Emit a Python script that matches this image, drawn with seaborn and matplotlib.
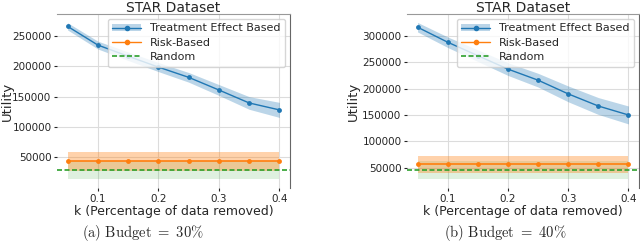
import numpy as np
import pandas as pd
import seaborn as sns
import matplotlib.pyplot as plt
from matplotlib.lines import Line2D
from matplotlib.patches import Patch

k = [0.05, 0.1, 0.15, 0.2, 0.25, 0.3, 0.35, 0.4]

# Budget = 30%
te_30 = [266500, 235500, 217000, 199000, 182000, 161000, 139500, 128000]
te_30_err = [6000, 6500, 7000, 7500, 8000, 9000, 10500, 12500]
risk_30 = 42500
risk_30_err = 15000
rand_30 = 28300
rand_30_err = 15500
yticks_30 = [50000, 100000, 150000, 200000, 250000]

# Budget = 40%
te_40 = [316500, 288000, 262500, 237000, 216000, 190000, 167000, 150000]
te_40_err = [9000, 10000, 11000, 12000, 13000, 15000, 16000, 17000]
risk_40 = 56500
risk_40_err = 16500
rand_40 = 45600
rand_40_err = 17600
yticks_40 = [50000, 100000, 150000, 200000, 250000, 300000]

panels = [
    (r"$\mathrm{(a)\ Budget}\ =\ 30\%$", te_30, te_30_err, risk_30, risk_30_err,
     rand_30, rand_30_err, yticks_30, (-1500, 287000)),
    (r"$\mathrm{(b)\ Budget}\ =\ 40\%$", te_40, te_40_err, risk_40, risk_40_err,
     rand_40, rand_40_err, yticks_40, (11500, 341500)),
]

sns.set_style("whitegrid", {"grid.color": "#dcdcdc"})
plt.rcParams["font.family"] = ["DejaVu Sans"]
plt.rcParams["mathtext.fontset"] = "cm"

blue, orange, green = "#1f77b4", "#ff7f0e", "#2ca02c"

fig = plt.figure(figsize=(6.4, 2.44), dpi=100)
axes_pos = [[57 / 640, 56 / 244, 233 / 640, 174 / 244],
            [407 / 640, 56 / 244, 232 / 640, 174 / 244]]
ylabel_x = [-0.185, -0.205]
caption_x = [143 / 640, 505 / 640]

for i, (cap, te, te_err, risk, risk_err, rnd, rnd_err, yt, ylim) in enumerate(panels):
    ax = fig.add_axes(axes_pos[i])
    df = pd.DataFrame({"k": k, "te": te, "risk": [risk] * len(k)})
    te_lo = np.array(te) - np.array(te_err)
    te_hi = np.array(te) + np.array(te_err)

    ax.fill_between(k, rnd - rnd_err, rnd + rnd_err, color=green, alpha=0.15, lw=0)
    ax.fill_between(k, risk - risk_err, risk + risk_err, color=orange, alpha=0.35, lw=0)
    ax.fill_between(k, te_lo, te_hi, color=blue, alpha=0.3, lw=0)
    sns.lineplot(data=df, x="k", y="te", ax=ax, color=blue, marker="o",
                 markersize=3.5, markeredgewidth=0, lw=1)
    sns.lineplot(data=df, x="k", y="risk", ax=ax, color=orange, marker="o",
                 markersize=3.5, markeredgewidth=0, lw=1.2)
    ax.axhline(rnd, color=green, ls=(0, (3, 1.5)), lw=1.2)

    ax.set_ylim(*ylim)
    ax.set_yticks(yt)
    ax.set_xticks([0.1, 0.2, 0.3, 0.4])
    ax.tick_params(labelsize=7.5, length=2.5, pad=1.5, left=True, bottom=True)
    ax.set_xlabel("k (Percentage of data removed)", fontsize=9, labelpad=1)
    ax.set_ylabel("Utility", fontsize=9.5)
    ax.yaxis.set_label_coords(ylabel_x[i], 0.5)
    ax.set_title("STAR Dataset", fontsize=10, pad=1.5)
    ax.spines["left"].set_visible(False)
    ax.spines["bottom"].set_visible(False)
    ax.spines["top"].set_color("#999999")
    ax.spines["right"].set_color("#666666")

    handles = [
        (Patch(color=blue, alpha=0.3, lw=0),
         Line2D([], [], color=blue, marker="o", markersize=3, lw=1)),
        Line2D([], [], color=orange, marker="o", markersize=3, lw=1),
        Line2D([], [], color=green, ls=(0, (3, 1.5)), lw=1.2),
    ]
    ax.legend(handles, ["Treatment Effect Based", "Risk-Based", "Random"],
              loc="upper right", fontsize=8, handlelength=2.6,
              borderaxespad=0.45, labelspacing=0.4, framealpha=0.8)

    fig.text(caption_x[i], 0.045, cap, ha="center", va="center", fontsize=10.5)

fig.savefig("out.png", dpi=100)
